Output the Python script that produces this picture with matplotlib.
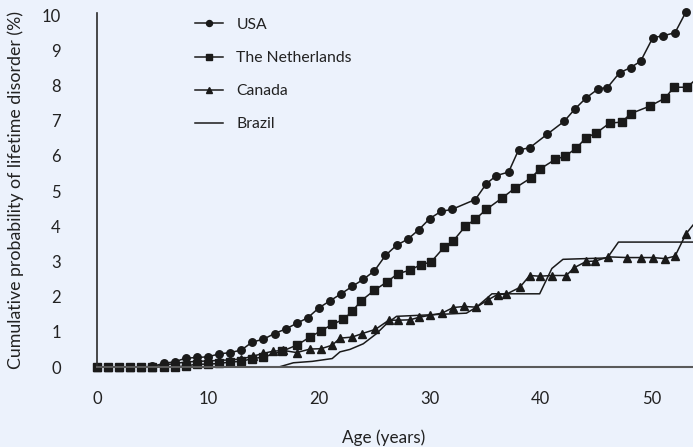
import matplotlib
matplotlib.use("Agg")
import matplotlib.pyplot as plt

# Cumulative probability of lifetime disorder by age, per country
usa_age = [0, 1, 2, 3, 4, 5, 6, 7, 8, 9, 10, 11, 12, 13, 14, 15, 16, 17, 18, 19,
           20, 21, 22, 23, 24, 25, 26, 27, 28, 29, 30, 31, 32, 34.1, 35.1, 36.0,
           37.1, 38.0, 39.0, 40.6, 42.1, 43.1, 44.1, 45.2, 46.0, 47.1, 48.1, 49.0,
           50.1, 51.0, 52.1, 53.1]
usa_pct = [0, 0, 0, 0, 0, 0.02, 0.1, 0.15, 0.25, 0.27, 0.29, 0.37, 0.41, 0.48,
           0.71, 0.79, 0.95, 1.08, 1.24, 1.40, 1.68, 1.88, 2.08, 2.29, 2.49, 2.73,
           3.17, 3.46, 3.63, 3.90, 4.22, 4.42, 4.48, 4.76, 5.21, 5.44, 5.54, 6.17,
           6.23, 6.62, 6.98, 7.34, 7.65, 7.91, 7.94, 8.36, 8.51, 8.69, 9.36, 9.41,
           9.50, 10.10]

nld_age = [0, 1, 2, 3, 4, 5, 6, 7, 8, 9, 10, 11, 12, 13, 14, 15, 16.7, 18.0,
           19.2, 20.2, 21.2, 22.2, 23.0, 23.8, 25.0, 26.1, 27.1, 28.2, 29.2, 30.1,
           31.3, 32.1, 33.2, 34.1, 35.1, 36.5, 37.7, 39.1, 39.9, 41.3, 42.2, 43.2,
           44.1, 45.0, 46.2, 47.3, 48.1, 49.8, 51.2, 52.0, 53.2, 54.4]
nld_pct = [0, 0, 0, 0, 0, 0, 0, 0, 0.03, 0.08, 0.08, 0.1, 0.14, 0.16, 0.24, 0.28,
           0.45, 0.62, 0.85, 1.03, 1.21, 1.35, 1.58, 1.88, 2.18, 2.41, 2.65, 2.75,
           2.91, 2.98, 3.41, 3.58, 4.0, 4.2, 4.48, 4.8, 5.09, 5.37, 5.62, 5.9, 5.99,
           6.22, 6.52, 6.65, 6.93, 6.96, 7.2, 7.41, 7.64, 7.95, 7.95, 8.3]

can_age = [0, 1, 2, 3, 4, 5, 6, 7, 8, 9, 10, 11, 12, 13, 14.1, 15.0, 15.9, 16.8,
           18.0, 19.2, 20.2, 21.2, 21.9, 23.0, 23.9, 25.1, 26.3, 27.1, 28.2, 29.0,
           30.0, 31.1, 32.1, 33.1, 34.2, 35.2, 36.1, 36.9, 38.1, 39.0, 39.9, 41.0,
           42.3, 43.0, 44.1, 44.9, 46.1, 47.8, 49.0, 50.1, 51.2, 52.1, 53.1, 54.4]
can_pct = [0, 0, 0, 0, 0, 0, 0.05, 0.1, 0.14, 0.16, 0.17, 0.19, 0.2, 0.23, 0.31,
           0.39, 0.45, 0.47, 0.41, 0.51, 0.52, 0.62, 0.82, 0.85, 0.95, 1.07, 1.33,
           1.33, 1.34, 1.41, 1.47, 1.53, 1.69, 1.72, 1.7, 1.9, 2.06, 2.07, 2.26,
           2.6, 2.58, 2.6, 2.6, 2.82, 3.0, 3.01, 3.13, 3.11, 3.11, 3.11, 3.08,
           3.15, 3.79, 4.3]

bra_age = [0, 16.4, 17.7, 19.4, 21.2, 21.9, 22.8, 24.0, 25.2, 26.1, 27.0, 31.2,
           33.3, 34.2, 35.6, 39.9, 41.0, 42.0, 46.0, 47.0, 54.0]
bra_pct = [0, 0, 0.12, 0.16, 0.24, 0.43, 0.5, 0.66, 0.95, 1.23, 1.44, 1.5, 1.53,
           1.7, 2.08, 2.08, 2.8, 3.06, 3.1, 3.55, 3.55]

x_ticks = [0, 10, 20, 30, 40, 50]
y_ticks = list(range(0, 11))

BG = "#ecf2fc"
INK = "#1a1a1a"
TXT = "#222222"

plt.rcParams["font.family"] = ["Lato", "DejaVu Sans"]
plt.rcParams["font.size"] = 11

W, H = 693, 447
AX_L, AX_B, AX_T = 97, 367, 13          # pixel edges of the plotting area
fig = plt.figure(figsize=(W / 100, H / 100), dpi=100, facecolor=BG)
ax = fig.add_axes([AX_L / W, (H - AX_B) / H, 1 - AX_L / W, (AX_B - AX_T) / H])
ax.set_facecolor(BG)
ax_w, ax_h = W - AX_L, AX_B - AX_T

common = dict(color=INK, linewidth=1.1, clip_on=False)
ax.plot(usa_age, usa_pct, marker="o", markersize=5.4, label="USA", **common)
ax.plot(nld_age, nld_pct, marker="s", markersize=5.8, label="The Netherlands", **common)
ax.plot(can_age, can_pct, marker="^", markersize=5.4, label="Canada", **common)
ax.plot(bra_age, bra_pct, label="Brazil", **common)

ax.set_xlim(0, 53.72)
ax.set_ylim(0, 10.06)
ax.set_xticks(x_ticks)
ax.set_yticks(y_ticks)
ax.tick_params(length=0, colors=TXT, labelsize=12)
ax.tick_params(axis="x", pad=17)
ax.tick_params(axis="y", pad=26)

for side in ("top", "right"):
    ax.spines[side].set_visible(False)
ax.spines["left"].set_color("#2a2a2a")
ax.spines["left"].set_linewidth(1.2)
ax.spines["bottom"].set_color("#5a5a5a")
ax.spines["bottom"].set_linewidth(1.5)

ax.set_xlabel("Age (years)", color=TXT, fontsize=12.3)
ax.xaxis.set_label_coords((384 - AX_L) / ax_w, -(429 - AX_B) / ax_h)
ax.set_ylabel("Cumulative probability of lifetime disorder (%)", color=TXT,
              fontsize=12.8)
# ylabel anchor is the right-hand edge of the rotated text
ax.yaxis.set_label_coords(-(AX_L - 24) / ax_w, (AX_B - 190) / ax_h)

leg = ax.legend(loc="upper left", bbox_to_anchor=(187 / W, 1 - 10 / H),
                bbox_transform=fig.transFigure, frameon=False, borderpad=0,
                handlelength=1.8, handletextpad=0.85, labelspacing=1.22,
                markerscale=0.8, fontsize=11.3)
for t in leg.get_texts():
    t.set_color(TXT)

fig.savefig("out.png", dpi=100, facecolor=BG)
